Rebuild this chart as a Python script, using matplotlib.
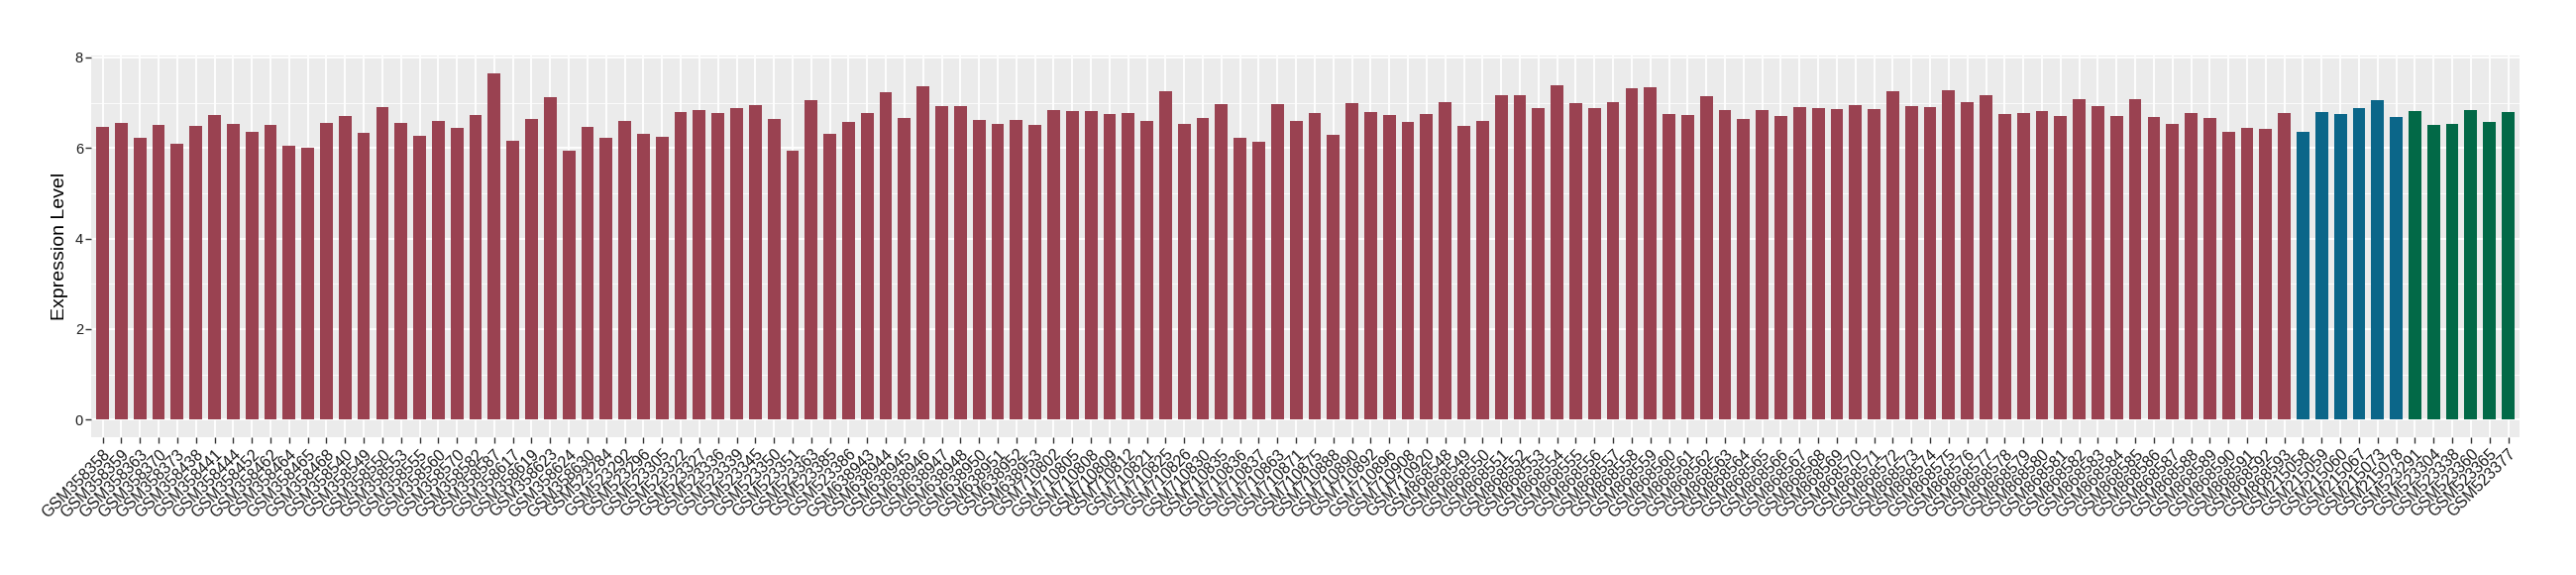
import matplotlib
matplotlib.use("Agg")
import matplotlib.pyplot as plt
from matplotlib.ticker import MultipleLocator

plt.rcParams['font.family'] = ['Liberation Sans', 'DejaVu Sans']

# sample ids, grouped by the colour of their bars
samples_red = [
    "GSM358358", "GSM358359", "GSM358363", "GSM358370", "GSM358373", "GSM358438",
    "GSM358441", "GSM358444", "GSM358452", "GSM358462", "GSM358464", "GSM358465",
    "GSM358468", "GSM358540", "GSM358549", "GSM358550", "GSM358553", "GSM358555",
    "GSM358560", "GSM358570", "GSM358582", "GSM358587", "GSM358617", "GSM358619",
    "GSM358623", "GSM358624", "GSM358630", "GSM523284", "GSM523292", "GSM523296",
    "GSM523305", "GSM523322", "GSM523327", "GSM523336", "GSM523339", "GSM523345",
    "GSM523350", "GSM523351", "GSM523363", "GSM523385", "GSM523386", "GSM638943",
    "GSM638944", "GSM638945", "GSM638946", "GSM638947", "GSM638948", "GSM638950",
    "GSM638951", "GSM638952", "GSM638953", "GSM710802", "GSM710805", "GSM710808",
    "GSM710809", "GSM710812", "GSM710821", "GSM710825", "GSM710826", "GSM710830",
    "GSM710835", "GSM710836", "GSM710837", "GSM710863", "GSM710871", "GSM710875",
    "GSM710888", "GSM710890", "GSM710892", "GSM710896", "GSM710908", "GSM710920",
    "GSM868548", "GSM868549", "GSM868550", "GSM868551", "GSM868552", "GSM868553",
    "GSM868554", "GSM868555", "GSM868556", "GSM868557", "GSM868558", "GSM868559",
    "GSM868560", "GSM868561", "GSM868562", "GSM868563", "GSM868564", "GSM868565",
    "GSM868566", "GSM868567", "GSM868568", "GSM868569", "GSM868570", "GSM868571",
    "GSM868572", "GSM868573", "GSM868574", "GSM868575", "GSM868576", "GSM868577",
    "GSM868578", "GSM868579", "GSM868580", "GSM868581", "GSM868582", "GSM868583",
    "GSM868584", "GSM868585", "GSM868586", "GSM868587", "GSM868588", "GSM868589",
    "GSM868590", "GSM868591", "GSM868592", "GSM868593",
]
values_red = [
    6.46, 6.55, 6.22, 6.50, 6.09, 6.48, 6.72, 6.53, 6.35, 6.50, 6.04, 6.00,
    6.55, 6.70, 6.33, 6.90, 6.55, 6.26, 6.59, 6.44, 6.72, 7.64, 6.16, 6.64,
    7.12, 5.94, 6.46, 6.22, 6.59, 6.31, 6.24, 6.79, 6.84, 6.77, 6.88, 6.94,
    6.64, 5.94, 7.05, 6.31, 6.57, 6.77, 7.23, 6.66, 7.36, 6.92, 6.92, 6.62,
    6.53, 6.62, 6.50, 6.84, 6.81, 6.81, 6.74, 6.77, 6.59, 7.25, 6.53, 6.66,
    6.96, 6.22, 6.13, 6.96, 6.59, 6.77, 6.28, 6.99, 6.79, 6.72, 6.57, 6.74,
    7.01, 6.48, 6.59, 7.16, 7.16, 6.88, 7.38, 6.99, 6.88, 7.01, 7.32, 7.34,
    6.74, 6.72, 7.14, 6.84, 6.64, 6.84, 6.70, 6.90, 6.88, 6.86, 6.94, 6.86,
    7.25, 6.92, 6.90, 7.27, 7.01, 7.16, 6.74, 6.77, 6.81, 6.70, 7.08, 6.92,
    6.70, 7.08, 6.68, 6.53, 6.77, 6.66, 6.35, 6.44, 6.42, 6.77,
]
samples_blue = ["GSM215058", "GSM215059", "GSM215060", "GSM215067", "GSM215073", "GSM215078"]
values_blue = [6.35, 6.79, 6.74, 6.88, 7.05, 6.68]
samples_green = ["GSM523291", "GSM523304", "GSM523338", "GSM523360", "GSM523365", "GSM523377"]
values_green = [6.81, 6.50, 6.53, 6.84, 6.57, 6.79]

c_red = "#9A4251"
c_blue = "#0B6689"
c_green = "#026947"

labels = samples_red + samples_blue + samples_green
values = values_red + values_blue + values_green
colors = [c_red] * len(values_red) + [c_blue] * len(values_blue) + [c_green] * len(values_green)

fig = plt.figure(figsize=(26, 5.8), dpi=100)
ax = fig.add_axes([0.0355, 0.2402, 0.9425, 0.6624])

x = list(range(len(values)))
ax.bar(x, values, width=0.68, color=colors, zorder=3)

# ggplot-like panel
ax.set_facecolor("#EBEBEB")
for s in ax.spines.values():
    s.set_visible(False)
ax.set_xlim(-0.6, len(values) - 0.4)
ax.set_ylim(-0.382, 8.03)
ax.yaxis.set_major_locator(MultipleLocator(2))
ax.yaxis.set_minor_locator(MultipleLocator(1))
ax.grid(which="major", color="white", linewidth=1.3, zorder=0)
ax.grid(which="minor", axis="y", color="white", linewidth=0.6, zorder=0)
ax.set_axisbelow(True)

ax.set_xticks(x)
ax.set_xticklabels(labels, rotation=45, ha="right", va="top", rotation_mode="anchor")
ax.tick_params(axis="both", which="major", length=4, width=1, color="#333333",
               labelsize=11.5, labelcolor="#1A1A1A", pad=3)
ax.tick_params(axis="y", which="minor", length=0)
ax.tick_params(axis="y", labelsize=10.5, pad=2)

ax.set_ylabel("Expression Level", fontsize=14, labelpad=5)

fig.savefig("out.png", dpi=100)
